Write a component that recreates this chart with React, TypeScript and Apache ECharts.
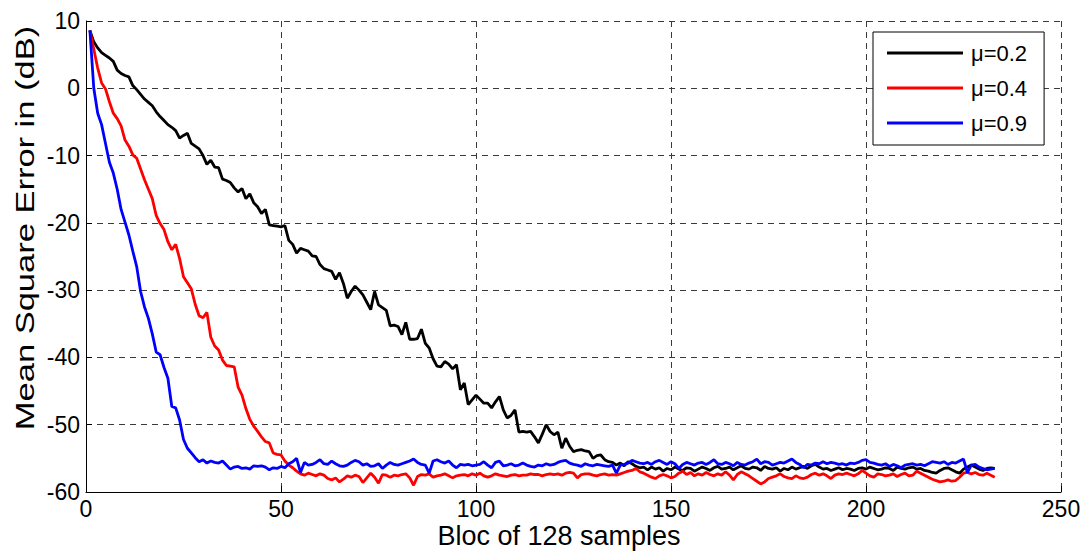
import React, { useEffect, useRef } from "react";
import * as echarts from "echarts";

// Sample index (bloc number) 1..233
const blocIndex: number[] = Array.from({ length: 233 }, (_, i) => i + 1);

const seriesNames = ["μ=0.2", "μ=0.4", "μ=0.9"];
const xTicks = { min: 0, max: 250, interval: 50 };
const yTicks = { min: -60, max: 10, interval: 10 };
const xLabel = "Bloc of 128 samples";
const yLabel = "Mean Square Error in (dB)";

// μ = 0.2 (black)
const mse02: number[] = [
  8.6, 6.9, 6.0, 5.3, 4.9, 4.5, 4.0, 2.7, 2.2, 1.9,
  1.7, 0.4, -0.2, -0.9, -1.6, -2.1, -2.6, -3.5, -4.2, -4.8,
  -5.4, -5.8, -6.3, -7.4, -7.0, -6.7, -8.2, -8.6, -9.0, -10.0,
  -11.3, -10.7, -11.7, -11.8, -13.5, -13.7, -14.0, -14.8, -15.4, -14.9,
  -16.4, -15.7, -17.0, -17.6, -18.6, -18.0, -20.3, -20.4, -20.5, -20.6,
  -20.4, -22.6, -23.2, -24.5, -23.8, -24.0, -24.2, -24.9, -25.0, -26.2,
  -26.8, -27.0, -27.2, -28.4, -27.4, -29.0, -31.2, -30.2, -29.4, -30.0,
  -30.7, -31.8, -32.9, -30.2, -32.2, -32.6, -33.0, -35.3, -35.2, -35.4,
  -36.6, -34.8, -37.3, -37.3, -37.2, -35.8, -37.9, -38.6, -40.2, -41.3,
  -41.4, -40.6, -41.0, -41.7, -41.1, -44.8, -43.8, -47.0, -46.3, -45.6,
  -46.2, -46.8, -46.8, -47.5, -46.6, -45.8, -47.8, -49.0, -48.6, -47.8,
  -51.1, -51.0, -51.1, -51.0, -51.8, -52.7, -51.4, -50.0, -51.0, -51.5,
  -51.1, -53.5, -52.0, -53.2, -54.0, -53.8, -53.7, -53.9, -54.0, -55.0,
  -54.6, -54.5, -55.2, -55.5, -55.6, -56.0, -55.7, -56.1, -55.5, -55.8,
  -56.2, -56.4, -56.3, -56.7, -56.3, -56.6, -56.4, -56.9, -56.5, -56.7,
  -56.3, -56.6, -56.8, -56.4, -56.5, -56.9, -56.6, -56.3, -56.5, -56.8,
  -56.4, -56.2, -56.6, -56.5, -56.3, -56.7, -56.4, -56.1, -56.5, -56.6,
  -56.3, -56.4, -56.8, -56.2, -56.5, -56.6, -56.4, -56.9, -56.5, -56.7,
  -56.3, -56.6, -56.4, -56.2, -56.5, -56.1, -55.9, -56.3, -56.6, -56.5,
  -56.8, -56.6, -56.4, -56.7, -56.5, -56.6, -56.8, -56.5, -56.4, -56.6,
  -56.3, -56.5, -56.7, -56.6, -56.4, -56.5, -56.8, -56.3, -56.5, -56.6,
  -56.4, -56.3, -56.6, -56.5, -56.8, -56.9, -57.1, -57.2, -56.8, -56.5,
  -56.4, -56.7, -57.0, -57.2, -56.6, -56.3, -56.0, -56.3, -56.6, -56.8,
  -56.5, -56.4, -56.5,
];

// μ = 0.4 (red)
const mse04: number[] = [
  8.6, 5.8, 3.0, 0.8, -0.1, -2.0, -3.7, -4.5, -5.6, -7.7,
  -8.6, -9.9, -10.4, -12.0, -13.6, -15.0, -16.4, -18.9, -20.1, -21.0,
  -22.8, -24.0, -23.2, -25.3, -28.0, -28.9, -29.8, -32.1, -33.8, -34.1,
  -33.3, -37.0, -38.3, -38.9, -40.4, -41.2, -41.3, -41.4, -44.4, -45.6,
  -47.6, -49.2, -50.2, -51.0, -51.8, -52.5, -52.7, -54.2, -54.4, -54.5,
  -55.4, -56.0, -56.4, -56.9, -57.3, -57.5, -57.2, -57.4, -57.6, -57.3,
  -57.5, -58.0, -58.2, -57.9, -58.5, -58.1, -57.6, -57.8, -57.5, -57.7,
  -58.6, -57.9, -57.2, -57.8, -58.7, -57.4, -57.5, -57.8, -57.5, -57.6,
  -57.4, -57.3, -57.9, -59.0, -57.7, -57.4, -57.5, -57.3, -57.8, -57.6,
  -57.5, -57.3, -57.6, -57.9, -57.6, -57.5, -57.4, -57.6, -57.3, -57.5,
  -57.2, -57.6, -57.8, -57.6, -57.3, -57.5, -57.6, -57.7, -57.5, -57.4,
  -57.6, -57.5, -57.5, -57.3, -57.4, -57.4, -57.6, -57.4, -57.3, -57.4,
  -57.3, -57.5, -57.2, -57.1, -57.2, -57.9, -57.4, -57.3, -57.3, -57.5,
  -57.6, -57.4, -57.3, -57.5, -57.4, -57.5, -57.3, -57.1, -56.9, -56.8,
  -56.5, -57.0, -57.2, -57.5, -57.8, -58.0, -57.6, -57.4, -57.6, -57.9,
  -57.7, -57.2, -56.9, -57.4, -57.1, -57.6, -57.3, -57.5, -57.1, -57.4,
  -57.6, -57.3, -57.5, -57.0, -57.5, -58.2, -57.4, -57.0, -57.3, -57.6,
  -58.0, -58.4, -58.8, -58.5, -58.0, -57.8, -57.6, -57.3, -57.7, -57.9,
  -58.0, -57.6, -57.9, -58.0, -57.8, -57.4, -57.2, -57.5, -57.3, -57.6,
  -58.0, -57.5, -57.3, -57.4, -57.2, -57.4, -57.6, -57.3, -56.8, -57.2,
  -57.6, -57.8, -57.3, -57.4, -57.6, -57.5, -57.3, -57.7, -57.4, -57.2,
  -57.6, -57.5, -56.9, -57.2, -57.5, -57.8, -58.1, -58.3, -58.5, -58.4,
  -58.2, -58.4, -58.3, -57.8, -57.2, -57.1, -57.3, -57.1, -57.4, -57.5,
  -57.2, -57.5, -57.8,
];

// μ = 0.9 (blue)
const mse09: number[] = [
  8.6, 0.0, -3.7, -5.4, -8.2, -11.0, -12.6, -15.0, -18.0, -19.9,
  -21.8, -24.2, -26.5, -30.2, -32.5, -34.2, -36.5, -39.2, -39.6, -41.5,
  -43.1, -47.3, -47.5, -49.3, -52.2, -53.5, -54.2, -54.9, -55.5, -55.2,
  -55.7, -55.4, -55.6, -55.7, -55.4, -56.0, -56.6, -56.3, -56.2, -56.5,
  -56.4, -56.6, -56.1, -56.2, -56.1, -56.3, -56.7, -56.4, -56.5, -56.2,
  -56.4, -55.8, -55.5, -55.0, -57.1, -55.6, -56.0, -55.9, -55.6, -55.2,
  -55.8, -55.9, -55.4, -55.8, -56.1, -56.2, -56.0, -55.6, -55.3, -55.5,
  -56.0, -55.8, -56.2, -56.1, -55.8, -56.5, -56.0, -55.6, -55.9, -56.0,
  -55.8, -55.6, -55.4, -55.1, -55.6, -55.9, -56.0, -57.2, -55.4, -55.2,
  -55.5, -55.7, -55.4, -56.0, -56.4, -55.9, -56.0, -55.9, -56.1, -56.0,
  -55.9, -55.5, -56.0, -56.4, -55.6, -55.4, -56.1, -56.0, -55.8, -56.1,
  -56.0, -55.7, -56.0, -56.2, -56.3, -56.0, -56.1, -55.8, -56.0, -55.9,
  -55.6, -55.4, -55.3, -55.7, -55.9, -56.0, -56.2, -55.8, -56.0, -56.1,
  -55.9, -56.0, -56.1, -56.2, -56.0, -57.2, -56.0, -55.9, -55.7, -55.3,
  -55.5, -55.7, -55.8, -55.6, -55.9, -55.5, -55.3, -55.6, -55.9, -55.5,
  -55.8, -56.5, -55.9, -55.6, -55.8, -56.0, -55.7, -55.6, -55.9, -55.6,
  -55.2, -55.8, -55.9, -55.6, -55.8, -56.1, -55.6, -55.9, -56.0, -55.7,
  -55.5, -55.1, -55.8, -55.5, -55.6, -56.0, -55.8, -55.6, -55.7, -55.4,
  -55.1, -55.6, -55.9, -56.4, -55.9, -56.0, -55.7, -55.8, -55.5, -55.8,
  -55.6, -55.7, -55.9, -55.8, -56.0, -55.7, -55.8, -55.6, -55.3, -55.2,
  -55.6, -55.7, -55.9, -56.0, -55.8, -56.2, -55.9, -56.1, -56.4, -56.0,
  -55.9, -55.8, -56.0, -55.9, -56.1, -55.8, -55.5, -55.6, -55.7, -55.5,
  -55.9, -55.6, -55.7, -55.4, -55.1, -57.1, -56.0, -55.9, -56.3, -56.5,
  -56.7, -56.6, -56.5,
];

const seriesValues = [mse02, mse04, mse09];
const seriesColors = ["#000000", "#ff0000", "#0000ff"];

const FONT = '"Liberation Sans", Arial, Helvetica, sans-serif';

export default function App() {
  const ref = useRef<HTMLDivElement>(null);

  useEffect(() => {
    if (!ref.current) return;
    const chart = echarts.init(ref.current, null, { renderer: "svg" });

    const gridLine = { show: true, lineStyle: { color: "#3a3a3a", width: 1, type: [6, 5] as any } };

    chart.setOption({
      animation: false,
      backgroundColor: "#ffffff",
      textStyle: { fontFamily: FONT },
      grid: { left: 86, right: 23, top: 21, bottom: 62, containLabel: false },
      legend: {
        orient: "vertical",
        left: 873,
        top: 32,
        padding: [10, 17, 11, 14],
        itemGap: 13,
        itemWidth: 76,
        itemHeight: 3,
        icon: "rect",
        backgroundColor: "#ffffff",
        borderColor: "#000000",
        borderWidth: 1,
        borderRadius: 0,
        textStyle: { fontSize: 22, color: "#000", fontFamily: FONT, lineHeight: 22, padding: [0, 0, 0, 3] },
        data: seriesNames,
      },
      xAxis: {
        type: "value",
        min: xTicks.min,
        max: xTicks.max,
        interval: xTicks.interval,
        axisLine: { show: true, onZero: false, lineStyle: { color: "#000", width: 1 } },
        axisTick: { show: true, inside: true, length: 6, lineStyle: { color: "#000" } },
        axisLabel: { fontSize: 23, color: "#000", margin: 5, fontFamily: FONT },
        splitLine: gridLine,
      },
      yAxis: {
        type: "value",
        min: yTicks.min,
        max: yTicks.max,
        interval: yTicks.interval,
        axisLine: { show: true, onZero: false, lineStyle: { color: "#000", width: 1 } },
        axisTick: { show: true, inside: true, length: 6, lineStyle: { color: "#000" } },
        axisLabel: { fontSize: 23, color: "#000", margin: 6, fontFamily: FONT },
        splitLine: gridLine,
      },
      graphic: [
        {
          type: "text",
          x: 25,
          y: 228,
          rotation: Math.PI / 2,
          scaleX: 1.38,
          style: {
            text: yLabel,
            fontSize: 25,
            fontFamily: FONT,
            fill: "#000",
            align: "center",
            verticalAlign: "middle",
          },
        },
        {
          type: "text",
          x: 559,
          y: 536,
          style: {
            text: xLabel,
            fontSize: 27,
            fontFamily: FONT,
            fill: "#000",
            align: "center",
            verticalAlign: "middle",
          },
        },
      ],
      series: seriesNames.map((name, k) => ({
        name,
        type: "line",
        data: blocIndex.map((x, i) => [x, seriesValues[k][i]]),
        symbol: "none",
        showSymbol: false,
        lineStyle: { color: seriesColors[k], width: 2.8 },
        itemStyle: { color: seriesColors[k] },
        z: 2 + k,
      })),
    });

    return () => chart.dispose();
  }, []);

  return (
    <div
      ref={ref}
      style={{ position: "fixed", left: 0, top: 0, width: 1084, height: 554, background: "#fff" }}
    />
  );
}
